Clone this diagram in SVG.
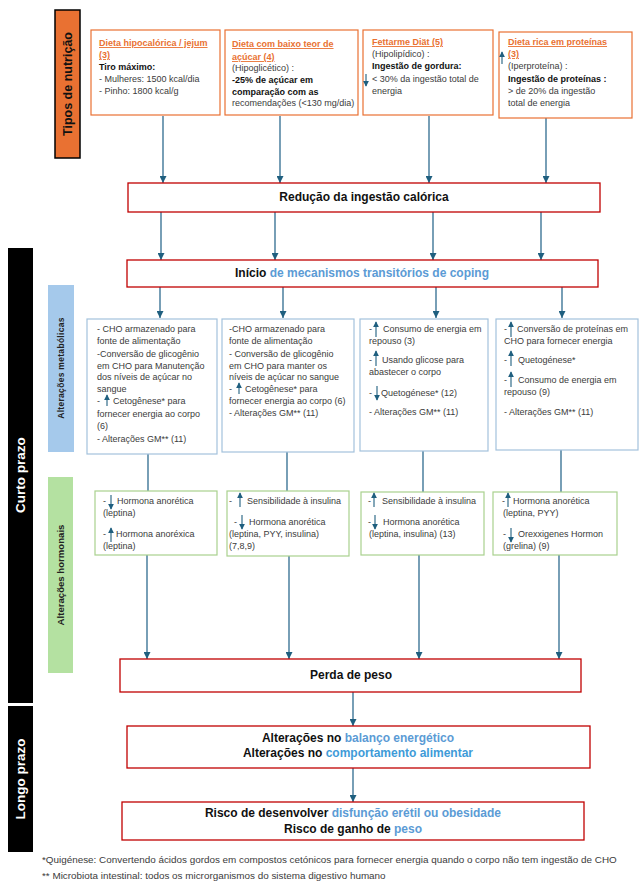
<svg xmlns="http://www.w3.org/2000/svg" width="640" height="894" viewBox="0 0 640 894">
<defs>
<marker id="ah" viewBox="0 0 8 8" refX="8" refY="4" markerWidth="7" markerHeight="7" markerUnits="userSpaceOnUse" orient="auto"><path d="M0,0 L8,4 L0,8 z" fill="#1F5F7F"/></marker>
<marker id="sh" viewBox="0 0 8 8" refX="7" refY="4" markerWidth="6" markerHeight="6" markerUnits="userSpaceOnUse" orient="auto"><path d="M0,0 L8,4 L0,8 z" fill="#1F5F7F"/></marker>
</defs>
<style>
text{font-family:"Liberation Sans",Arial,sans-serif}
.t{font-size:9px;fill:#3b3b3b}
.tb{font-size:9px;fill:#111;font-weight:bold}
.o{font-size:9px;fill:#E97132;font-weight:bold;text-decoration:underline}
.h{font-size:12px;fill:#111;font-weight:bold;text-anchor:middle}
.bl{fill:#5B9BD5}
.bl2{fill:#3E9BD8}
.ob{fill:#fff;stroke:#E97132;stroke-width:1.2}
.rb{fill:#fff;stroke:#C00000;stroke-width:1.3}
.mb{fill:#fff;stroke:#A3C2DC;stroke-width:1.2}
.gb{fill:#fff;stroke:#A9D18E;stroke-width:1.2}
.con{stroke:#2F6B8F;stroke-width:1.3;fill:none}
.ic{stroke:#1F5F7F;stroke-width:1.1;fill:none}
.side{font-weight:bold;text-anchor:middle;dominant-baseline:central}
.fn{font-size:9.9px;fill:#3b3b3b}
</style>
<rect width="640" height="894" fill="#fff"/>

<g id="bands">
<g id="tipos-band"><rect x="55" y="10" width="25" height="148" fill="#E97132" stroke="#000" stroke-width="1.5"/><text class="side" x="67.5" y="84" font-size="12.5" fill="#111" transform="rotate(-90 67.5 84)">Tipos de nutrição</text></g>
<g id="curto-band"><rect x="8" y="248" width="25" height="455" fill="#000"/><text class="side" x="20.5" y="475" font-size="13.5" fill="#fff" transform="rotate(-90 20.5 475)">Curto prazo</text></g>
<g id="longo-band"><rect x="8" y="706" width="25" height="146" fill="#000"/><text class="side" x="20.5" y="779" font-size="13.5" fill="#fff" transform="rotate(-90 20.5 779)">Longo prazo</text></g>
<g id="metab-band"><rect x="48" y="285" width="26" height="167" fill="#A5C9EB"/><text class="side" x="61" y="368" font-size="8.5" fill="#222" transform="rotate(-90 61 368)" letter-spacing="0.3">Alterações metabólicas</text></g>
<g id="horm-band"><rect x="48" y="477" width="25" height="196" fill="#B4E1A1"/><text class="side" x="60.5" y="575" font-size="9.6" fill="#222" transform="rotate(-90 60.5 575)">Alterações hormonais</text></g>
</g>

<g id="connectors">
<path class="con" d="M163,116 V183" marker-end="url(#ah)"/>
<path class="con" d="M280,116 V183" marker-end="url(#ah)"/>
<path class="con" d="M429,116 V183" marker-end="url(#ah)"/>
<path class="con" d="M546,118 V183" marker-end="url(#ah)"/>
<path class="con" d="M161,212 V260" marker-end="url(#ah)"/>
<path class="con" d="M275,212 V260" marker-end="url(#ah)"/>
<path class="con" d="M433,212 V260" marker-end="url(#ah)"/>
<path class="con" d="M541,212 V260" marker-end="url(#ah)"/>
<path class="con" d="M160,287 V318" marker-end="url(#ah)"/>
<path class="con" d="M283,287 V318" marker-end="url(#ah)"/>
<path class="con" d="M436,287 V318" marker-end="url(#ah)"/>
<path class="con" d="M562,287 V318" marker-end="url(#ah)"/>
<path class="con" d="M148,454 V491"/>
<path class="con" d="M287,452 V491"/>
<path class="con" d="M423,451 V492"/>
<path class="con" d="M561,450 V492"/>
<path class="con" d="M147,555 V659" marker-end="url(#ah)"/>
<path class="con" d="M289,556 V659" marker-end="url(#ah)"/>
<path class="con" d="M419,555 V659" marker-end="url(#ah)"/>
<path class="con" d="M559,555 V659" marker-end="url(#ah)"/>
<path class="con" d="M353,692 V726" marker-end="url(#ah)"/>
<path class="con" d="M353,768 V802" marker-end="url(#ah)"/>
</g>

<g id="diet1"><rect class="ob" x="91" y="30" width="129" height="85"/>
<text class="o" x="99" y="46">Dieta hipocalórica / jejum</text>
<text class="o" x="99" y="58">(3)</text>
<text class="tb" x="99" y="70">Tiro máximo:</text>
<text class="t" x="99" y="82">- Mulheres: 1500 kcal/dia</text>
<text class="t" x="99" y="94">- Pinho: 1800 kcal/g</text></g>

<g id="diet2"><rect class="ob" x="225" y="30" width="133" height="85"/>
<text class="o" x="232" y="47">Dieta com baixo teor de</text>
<text class="o" x="232" y="60">açúcar (4)</text>
<text class="t" x="232" y="71">(Hipoglicético) :</text>
<text class="tb" x="232" y="83">-25% de açúcar em</text>
<text class="tb" x="232" y="95">comparação com as</text>
<text class="t" x="232" y="106">recomendações (&lt;130 mg/dia)</text></g>

<g id="diet3"><rect class="ob" x="363" y="30" width="130" height="85"/>
<text class="o" x="372" y="45">Fettarme Diät (5)</text>
<text class="t" x="372" y="57">(Hipolipídico) :</text>
<text class="tb" x="372" y="69">Ingestão de gordura:</text>
<path class="ic" d="M366,74 V86" marker-end="url(#sh)"/>
<text class="t" x="372" y="82">&lt; 30% da ingestão total de</text>
<text class="t" x="372" y="94">energia</text></g>

<g id="diet4"><rect class="ob" x="499" y="32" width="133" height="86"/>
<text class="o" x="508" y="45">Dieta rica em proteínas</text>
<text class="o" x="508" y="57">(3)</text>
<path class="ic" d="M502,64 V52" marker-end="url(#sh)"/>
<text class="t" x="508" y="69">(Iperproteína) :</text>
<text class="tb" x="508" y="82">Ingestão de proteínas :</text>
<text class="t" x="508" y="94">&gt; de 20% da ingestão</text>
<text class="t" x="508" y="106">total de energia</text></g>

<g id="reducao"><rect class="rb" x="128" y="183" width="472" height="29"/>
<text class="h" x="364" y="201">Redução da ingestão calórica</text></g>

<g id="inicio"><rect class="rb" x="127" y="260" width="471" height="27"/>
<text class="h" x="362" y="277">Início <tspan class="bl">de mecanismos transitórios de coping</tspan></text></g>

<g id="metab1"><rect class="mb" x="87" y="319" width="130" height="135"/>
<text class="t" x="97" y="332">- CHO armazenado para</text>
<text class="t" x="97" y="344">fonte de alimentação</text>
<text class="t" x="97" y="357">-Conversão de glicogênio</text>
<text class="t" x="97" y="369">em CHO para Manutenção</text>
<text class="t" x="97" y="380">dos níveis de açúcar no</text>
<text class="t" x="97" y="392">sangue</text>
<text class="t" x="97" y="404">-</text>
<path class="ic" d="M107,406 V395" marker-end="url(#sh)"/>
<text class="t" x="113" y="404">Cetogênese* para</text>
<text class="t" x="97" y="417">fornecer energia ao corpo</text>
<text class="t" x="97" y="429">(6)</text>
<text class="t" x="97" y="442">- Alterações GM** (11)</text></g>

<g id="metab2"><rect class="mb" x="222" y="319" width="132" height="133"/>
<text class="t" x="229" y="332">-CHO armazenado para</text>
<text class="t" x="229" y="344">fonte de alimentação</text>
<text class="t" x="229" y="357">- Conversão de glicogênio</text>
<text class="t" x="229" y="369">em CHO para manter os</text>
<text class="t" x="229" y="380">níveis de açúcar no sangue</text>
<text class="t" x="229" y="392">-</text>
<path class="ic" d="M239,394 V383" marker-end="url(#sh)"/>
<text class="t" x="245" y="392">Cetogênese* para</text>
<text class="t" x="229" y="404">fornecer energia ao corpo (6)</text>
<text class="t" x="229" y="416">- Alterações GM** (11)</text></g>

<g id="metab3"><rect class="mb" x="360" y="319" width="128" height="132"/>
<text class="t" x="369" y="332">-</text>
<path class="ic" d="M376,337 V322" marker-end="url(#sh)"/>
<text class="t" x="383" y="332">Consumo de energia em</text>
<text class="t" x="369" y="344">repouso (3)</text>
<text class="t" x="369" y="363">-</text>
<path class="ic" d="M376,366 V351" marker-end="url(#sh)"/>
<text class="t" x="382" y="363">Usando glicose para</text>
<text class="t" x="369" y="375">abastecer o corpo</text>
<text class="t" x="369" y="396">-</text>
<path class="ic" d="M377,386 V400" marker-end="url(#sh)"/>
<text class="t" x="381" y="396">Quetogénese* (12)</text>
<text class="t" x="369" y="415">- Alterações GM** (11)</text></g>

<g id="metab4"><rect class="mb" x="496" y="319" width="142" height="131"/>
<text class="t" x="504" y="332">-</text>
<path class="ic" d="M511,337 V322" marker-end="url(#sh)"/>
<text class="t" x="517" y="332">Conversão de proteínas em</text>
<text class="t" x="504" y="344">CHO para fornecer energia</text>
<text class="t" x="504" y="363">-</text>
<path class="ic" d="M511,366 V351" marker-end="url(#sh)"/>
<text class="t" x="518" y="363">Quetogénese*</text>
<text class="t" x="504" y="383">-</text>
<path class="ic" d="M511,387 V372" marker-end="url(#sh)"/>
<text class="t" x="518" y="383">Consumo de energia em</text>
<text class="t" x="504" y="395">repouso (9)</text>
<text class="t" x="504" y="415">- Alterações GM** (11)</text></g>

<g id="horm1"><rect class="gb" x="95" y="491" width="122" height="64"/>
<text class="t" x="103" y="504">-</text>
<path class="ic" d="M111,495 V509" marker-end="url(#sh)"/>
<text class="t" x="117" y="504">Hormona anorética</text>
<text class="t" x="103" y="516">(leptina)</text>
<text class="t" x="103" y="537">-</text>
<path class="ic" d="M111,542 V528" marker-end="url(#sh)"/>
<text class="t" x="116" y="537">Hormona anoréxica</text>
<text class="t" x="103" y="549">(leptina)</text></g>

<g id="horm2"><rect class="gb" x="227" y="491" width="122" height="65"/>
<text class="t" x="229" y="504">-</text>
<path class="ic" d="M240,507 V493" marker-end="url(#sh)"/>
<text class="t" x="247" y="504">Sensibilidade à insulina</text>
<text class="t" x="234" y="525">-</text>
<path class="ic" d="M242,515 V529" marker-end="url(#sh)"/>
<text class="t" x="249" y="525">Hormona anorética</text>
<text class="t" x="229" y="537">(leptina, PYY, insulina)</text>
<text class="t" x="229" y="549">(7,8,9)</text></g>

<g id="horm3"><rect class="gb" x="361" y="492" width="123" height="63"/>
<text class="t" x="368" y="504">-</text>
<path class="ic" d="M374,507 V493" marker-end="url(#sh)"/>
<text class="t" x="382" y="504">Sensibilidade à insulina</text>
<text class="t" x="368" y="525">-</text>
<path class="ic" d="M375,515 V529" marker-end="url(#sh)"/>
<text class="t" x="383" y="525">Hormona anorética</text>
<text class="t" x="369" y="537">(leptina, insulina) (13)</text></g>

<g id="horm4"><rect class="gb" x="493" y="492" width="124" height="63"/>
<text class="t" x="502" y="504">-</text>
<path class="ic" d="M508,507 V493" marker-end="url(#sh)"/>
<text class="t" x="513" y="504">Hormona anorética</text>
<text class="t" x="503" y="516">(leptina, PYY)</text>
<text class="t" x="503" y="537">-</text>
<path class="ic" d="M511,528 V542" marker-end="url(#sh)"/>
<text class="t" x="518" y="537">Orexxigenes Hormon</text>
<text class="t" x="503" y="549">(grelina) (9)</text></g>

<g id="perda"><rect class="rb" x="120" y="659" width="461" height="33"/>
<text class="h" x="351" y="679">Perda de peso</text></g>

<g id="alteracoes"><rect class="rb" x="127" y="726" width="463" height="42"/>
<text class="h" x="358" y="742">Alterações no <tspan class="bl">balanço energético</tspan></text>
<text class="h" x="358" y="757">Alterações no <tspan class="bl2">comportamento alimentar</tspan></text></g>

<g id="risco"><rect class="rb" x="122" y="802" width="462" height="38"/>
<text class="h" x="353" y="817">Risco de desenvolver <tspan class="bl">disfunção erétil ou obesidade</tspan></text>
<text class="h" x="353" y="833">Risco de ganho de <tspan class="bl">peso</tspan></text></g>

<g id="footnotes">
<text class="fn" x="42" y="863">*Quigénese: Convertendo ácidos gordos em compostos cetónicos para fornecer energia quando o corpo não tem ingestão de CHO</text>
<text class="fn" x="42" y="879">** Microbiota intestinal: todos os microrganismos do sistema digestivo humano</text>
</g>
</svg>
